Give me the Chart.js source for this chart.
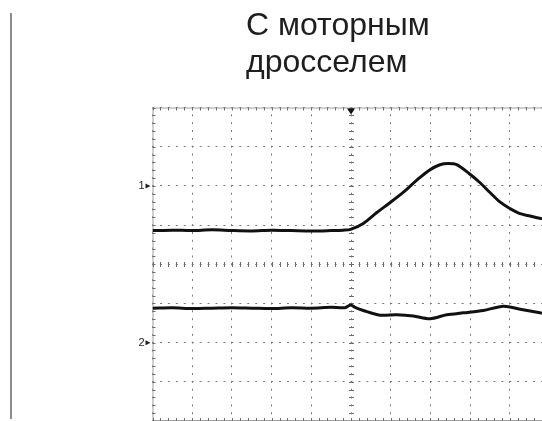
<!DOCTYPE html>
<html>
<head>
<meta charset="utf-8">
<script src="https://cdn.jsdelivr.net/npm/chart.js@4.4.0/dist/chart.umd.min.js"></script>
<style>
html, body { margin: 0; padding: 0; background: #fff; }
#boite { position: relative; width: 542px; height: 421px; }
</style>
</head>
<body>
<div id="boite"><canvas id="ecran"></canvas></div>
<script>
// texte du titre
var titreLignes = ['С моторным', 'дросселем'];

// canal 1 : temps (divisions) et niveau (divisions)
var ch1Temps  = [0, 0.5, 1, 1.5, 2, 2.5, 3, 3.5, 4, 4.5, 4.8, 4.99, 5.31, 5.65, 5.98, 6.32, 6.65, 6.97, 7.24, 7.45, 7.66, 7.98, 8.25, 8.5, 8.75, 8.99, 9.26, 9.51, 9.81];
var ch1Niveau = [0.86, 0.87, 0.86, 0.88, 0.86, 0.85, 0.87, 0.86, 0.85, 0.86, 0.87, 0.89, 1.04, 1.32, 1.57, 1.84, 2.14, 2.40, 2.54, 2.57, 2.54, 2.31, 2.08, 1.83, 1.59, 1.43, 1.29, 1.23, 1.16];

// canal 2
var ch2Temps  = [0, 0.5, 1, 1.5, 2, 2.5, 3, 3.5, 4, 4.5, 4.85, 4.99, 5.1, 5.31, 5.73, 6.15, 6.57, 6.99, 7.41, 7.83, 8.33, 8.84, 9.26, 9.76, 9.81];
var ch2Niveau = [-1.12, -1.11, -1.13, -1.12, -1.11, -1.12, -1.13, -1.11, -1.12, -1.10, -1.11, -1.04, -1.10, -1.18, -1.30, -1.29, -1.32, -1.39, -1.29, -1.24, -1.18, -1.07, -1.15, -1.24, -1.25];

// reperes des canaux et du declenchement
var marqueursNoms = ['1', '2'];
var marqueursNiveaux = [2, -2];
var declenchement = 5;

// ecran : 10 x 8 divisions (coupe a droite)
var xMin = 0, xMax = 9.81;
var yMin = -4, yMax = 4;

function points(temps, niveaux) {
	var tab = [];
	for (var i = 0; i < temps.length; i++) {
		tab.push({ x: temps[i], y: niveaux[i] });
	}
	return tab;
}

// decor de l'oscilloscope : bords, graduations, reperes, titre
var decor = {
	id: 'decor',
	beforeDatasetsDraw: function(chart) {
		var ctx = chart.ctx, a = chart.chartArea;
		var xs = chart.scales.x, ys = chart.scales.y;
		ctx.save();
		// bords
		ctx.strokeStyle = '#a0a0a0';
		ctx.lineWidth = 1;
		ctx.beginPath();
		ctx.moveTo(a.left, a.top + 0.5); ctx.lineTo(a.right, a.top + 0.5);
		ctx.moveTo(a.left + 0.5, a.top); ctx.lineTo(a.left + 0.5, a.bottom);
		ctx.moveTo(a.left, a.bottom - 0.5); ctx.lineTo(a.right, a.bottom - 0.5);
		ctx.stroke();
		// graduations tous les 1/5 de division
		ctx.strokeStyle = '#6e6e6e';
		ctx.beginPath();
		var cy = Math.round(ys.getPixelForValue(0)) + 0.5;
		for (var i = 0; i * 0.2 <= xMax; i++) {
			var px = Math.round(xs.getPixelForValue(i * 0.2)) + 0.5;
			ctx.moveTo(px, a.top); ctx.lineTo(px, a.top + 3);
			ctx.moveTo(px, a.bottom); ctx.lineTo(px, a.bottom - 3);
			ctx.moveTo(px, cy - 2.5); ctx.lineTo(px, cy + 2.5);
		}
		var cx = Math.round(xs.getPixelForValue(declenchement)) + 0.5;
		for (var j = 0; j <= 40; j++) {
			var py = Math.round(ys.getPixelForValue(yMin + j * 0.2)) + 0.5;
			ctx.moveTo(a.left, py); ctx.lineTo(a.left + 3, py);
			ctx.moveTo(cx - 2.5, py); ctx.lineTo(cx + 2.5, py);
		}
		ctx.stroke();
		ctx.restore();
	},
	afterDraw: function(chart) {
		var ctx = chart.ctx, a = chart.chartArea;
		var xs = chart.scales.x, ys = chart.scales.y;
		ctx.save();
		// trait gris a gauche
		ctx.fillStyle = '#8c8c8c';
		ctx.fillRect(10, 13, 2, 406);
		// titre
		ctx.fillStyle = '#1e1e1e';
		ctx.font = '32px "Liberation Sans", Arial, sans-serif';
		ctx.textBaseline = 'alphabetic';
		ctx.textAlign = 'left';
		ctx.fillText(titreLignes[0], 246, 35);
		ctx.fillText(titreLignes[1], 246, 72);
		// reperes des canaux
		ctx.font = '11px "Liberation Sans", Arial, sans-serif';
		ctx.textAlign = 'right';
		ctx.textBaseline = 'middle';
		for (var k = 0; k < marqueursNoms.length; k++) {
			var y = ys.getPixelForValue(marqueursNiveaux[k]);
			ctx.fillStyle = '#222';
			ctx.fillText(marqueursNoms[k], a.left - 8, y + 0.5);
			ctx.beginPath();
			ctx.moveTo(a.left - 7, y - 2.5);
			ctx.lineTo(a.left - 2, y);
			ctx.lineTo(a.left - 7, y + 2.5);
			ctx.closePath();
			ctx.fill();
		}
		// declenchement
		var tx = xs.getPixelForValue(declenchement);
		ctx.fillStyle = '#111';
		ctx.beginPath();
		ctx.moveTo(tx - 4, a.top + 1);
		ctx.lineTo(tx + 4, a.top + 1);
		ctx.lineTo(tx, a.top + 7);
		ctx.closePath();
		ctx.fill();
		ctx.restore();
	}
};

var ctx = document.getElementById('ecran').getContext('2d');
var graphe = new Chart(ctx, {
	type: 'line',
	data: {
		datasets: [
			{ data: points(ch1Temps, ch1Niveau), borderColor: '#111', borderWidth: 3, pointRadius: 0, tension: 0.3, fill: false },
			{ data: points(ch2Temps, ch2Niveau), borderColor: '#111', borderWidth: 3, pointRadius: 0, tension: 0.3, fill: false }
		]
	},
	options: {
		responsive: true,
		maintainAspectRatio: false,
		animation: false,
		layout: { padding: { left: 152.5, top: 107.5, right: 0, bottom: 0 } },
		plugins: { legend: { display: false }, title: { display: false }, tooltip: { enabled: false } },
		scales: {
			x: {
				type: 'linear', min: xMin, max: xMax,
				ticks: { display: false, stepSize: 1, includeBounds: false },
				grid: { color: '#7a7a7a', lineWidth: 1, drawTicks: false },
				border: { display: false, dash: [2, 5.84], dashOffset: 1 }
			},
			y: {
				min: yMin, max: yMax,
				ticks: { display: false, stepSize: 1 },
				grid: { color: '#7a7a7a', lineWidth: 1, drawTicks: false },
				border: { display: false, dash: [2, 5.94], dashOffset: 1 }
			}
		}
	},
	plugins: [decor]
});
</script>
</body>
</html>
